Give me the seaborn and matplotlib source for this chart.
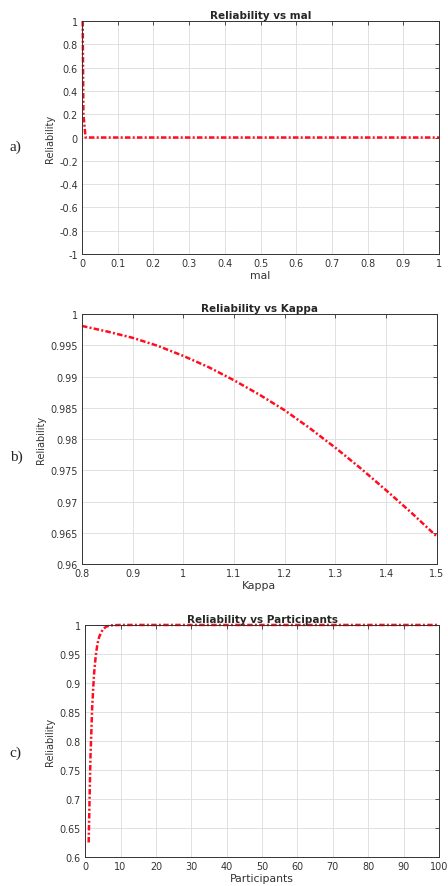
import numpy as np
import pandas as pd
import seaborn as sns
import matplotlib.pyplot as plt
from matplotlib.ticker import FuncFormatter, MultipleLocator

# panel a) reliability vs mal
malValues = [0.002, 0.003, 0.004, 0.01, 0.1, 0.2, 0.3, 0.4, 0.5, 0.6, 0.7, 0.8, 0.9, 1.0]
malReliability = [1.0, 0.6, 0.2, 0.0, 0.0, 0.0, 0.0, 0.0, 0.0, 0.0, 0.0, 0.0, 0.0, 0.0]

# panel b) reliability vs kappa
kappaValues = [0.8, 0.85, 0.9, 0.95, 1.0, 1.05, 1.1, 1.15, 1.2, 1.25, 1.3, 1.35, 1.4, 1.45, 1.5]
kappaReliability = [0.9981, 0.9972, 0.9962, 0.9949, 0.9933, 0.9915, 0.9894, 0.9871,
                    0.9846, 0.9817, 0.9786, 0.9753, 0.9718, 0.9682, 0.9644]

# panel c) reliability vs participants
participantValues = [1, 1.5, 2, 2.5, 3, 3.5, 4, 5, 6, 7, 8, 10, 20, 30, 40, 50, 60, 70, 80, 90, 100]
participantReliability = [0.625, 0.770, 0.859, 0.914, 0.947, 0.968, 0.980, 0.9926, 0.9972,
                          0.999, 0.9996, 1.0, 1.0, 1.0, 1.0, 1.0, 1.0, 1.0, 1.0, 1.0, 1.0]

sns.set_theme(style="whitegrid")
plt.rcParams["font.family"] = ["DejaVu Sans"]

lineColor = "#ff0d1f"
gFormat = FuncFormatter(lambda v, p : f"{v:.6g}" if abs(v) > 1e-12 else "0")

fig = plt.figure(figsize=(4.48, 8.87), dpi=100)

panels = [
    dict(rect=[0.183, 0.7125, 0.797, 0.2627], x=malValues, y=malReliability,
         xlabel="mal", title="Reliability vs mal", xlim=(0, 1), ylim=(-1, 1),
         xstep=0.1, ystep=0.2, tag="a)", tagy=0.834),
    dict(rect=[0.183, 0.363, 0.792, 0.2818], x=kappaValues, y=kappaReliability,
         xlabel="Kappa", title="Reliability vs Kappa", xlim=(0.8, 1.5), ylim=(0.96, 1.0),
         xstep=0.1, ystep=0.005, tag="b)", tagy=0.485),
    dict(rect=[0.19, 0.0327, 0.79, 0.2616], x=participantValues, y=participantReliability,
         xlabel="Participants", title="Reliability vs Participants", xlim=(0, 100), ylim=(0.6, 1.0),
         xstep=10, ystep=0.05, tag="c)", tagy=0.151),
]

for panel in panels :
    ax = fig.add_axes(panel["rect"])
    frame = pd.DataFrame({"x" : panel["x"], "y" : panel["y"]})
    sns.lineplot(data=frame, x="x", y="y", ax=ax, color=lineColor,
                 linewidth=1.8, linestyle=(0, (2.2, 0.9, 0.8, 0.9)), sort=False, clip_on=False)
    ax.set_xlim(*panel["xlim"])
    ax.set_ylim(*panel["ylim"])
    ax.xaxis.set_major_locator(MultipleLocator(panel["xstep"]))
    ax.yaxis.set_major_locator(MultipleLocator(panel["ystep"]))
    ax.xaxis.set_major_formatter(gFormat)
    ax.yaxis.set_major_formatter(gFormat)
    ax.set_xlabel(panel["xlabel"], fontsize=7.8, color="#333333", labelpad=1)
    ax.set_ylabel("Reliability", fontsize=7.0, color="#333333", labelpad=3)
    ax.set_title(panel["title"], fontsize=7.5, fontweight="bold", pad=2)
    ax.grid(True, color="#dcdcdc", linewidth=0.6)
    ax.tick_params(axis="both", direction="in", length=3, width=0.6, labelsize=6.9,
                   colors="#333333", top=True, right=True, pad=3)
    for spine in ax.spines.values() :
        spine.set_color("#333333")
        spine.set_linewidth(0.7)
    fig.text(0.022, panel["tagy"], panel["tag"], fontsize=11, family="Liberation Serif",
             ha="left", va="center")

fig.savefig("out.png", dpi=100, facecolor="white")
